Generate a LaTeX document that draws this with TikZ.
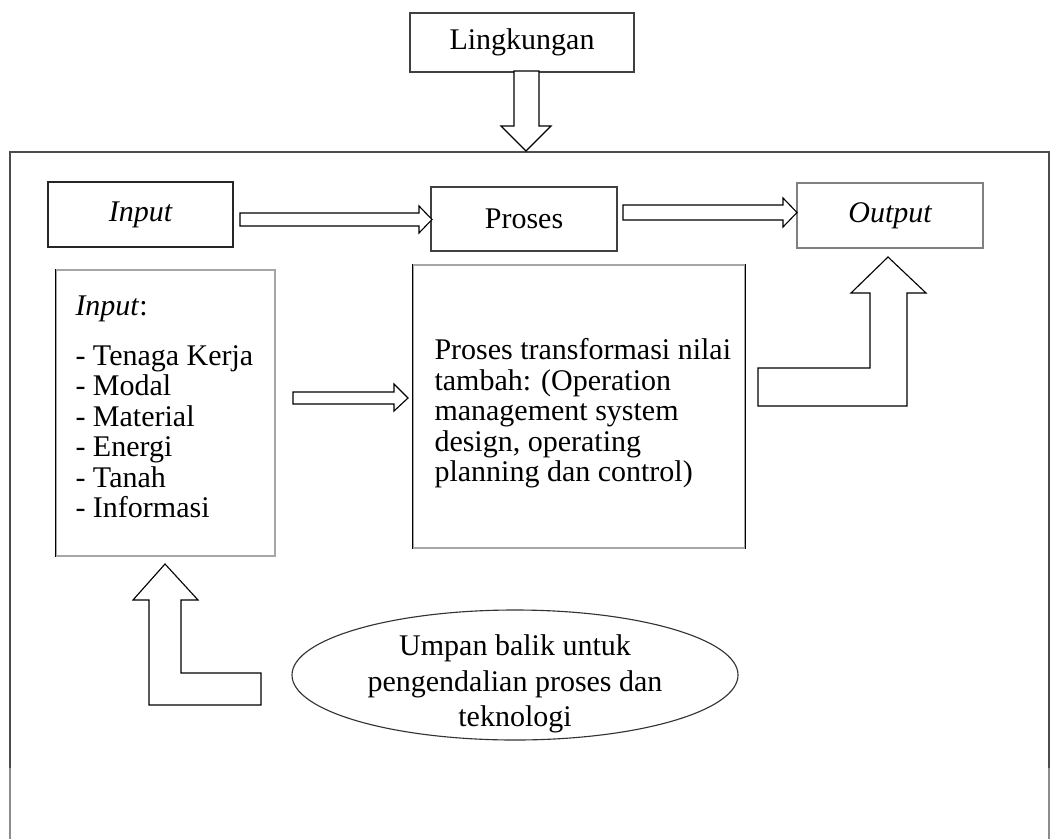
\documentclass[tikz,border=0pt]{standalone}
\usepackage{fontspec}
\setmainfont{Liberation Serif}
\usetikzlibrary{shapes.geometric}
\begin{document}
\begin{tikzpicture}[x=0.4pt,y=-0.4pt,
  box/.style={draw=black!75,line width=0.45pt,rectangle,inner sep=0pt,font=\fontsize{12}{12.2}\selectfont},
  blockarrow/.style={draw=black,line width=0.45pt,fill=white,line join=miter},
  frame/.style={draw=black!70,line width=0.75pt},
  txt/.style={inner sep=0pt,align=left,font=\fontsize{12}{12.2}\selectfont}]
\useasboundingbox (0,0) rectangle (1051,839);
% outer frame
\draw[frame] (10,768) -- (10,152) -- (1049,152) -- (1049,768);
\draw[draw=black!45,line width=0.75pt] (10,768) -- (10,839);
\draw[draw=black!45,line width=0.75pt] (1049,768) -- (1049,839);
% boxes
\node[box,minimum width=89.6pt,minimum height=23.6pt] (ling) at (522,42.5) {Lingkungan};
\node[box,draw=black!85,minimum width=74pt,minimum height=26pt] (input) at (140.5,214.5) {\itshape Input};
\node[box,minimum width=74.4pt,minimum height=25.6pt] (proses) at (524,219) {Proses};
\node[box,draw=black!50,minimum width=74.4pt,minimum height=26pt] (output) at (890,215.5) {\itshape Output};
\node[box,draw=black!35,minimum width=87.6pt,minimum height=114.4pt] (list) at (165.5,413) {};
\draw[black,line width=0.45pt] (list.north west) -- (list.south west);
\node[txt,anchor=north west] (listtext) at (75,295) {\textit{Input}:\\[7.8pt]- Tenaga Kerja\\- Modal\\- Material\\- Energi\\- Tanah\\- Informasi};
\node[box,draw=black!35,minimum width=132.8pt,minimum height=113.2pt] (trans) at (579,406.5) {};
\draw[black,line width=0.45pt] (trans.north east) -- (trans.south east);
\draw[black,line width=0.45pt] (trans.north west) -- (trans.south west);
\node[txt,anchor=north west] (transtext) at (434,338) {Proses transformasi nilai\\tambah: (Operation\\management system\\design, operating\\planning dan control)};
\node[ellipse,draw=black!80,line width=0.45pt,minimum width=178.4pt,minimum height=52pt,inner sep=0pt] (umpan) at (515,675) {};
\node[txt,align=center,font=\fontsize{12}{14.2}\selectfont] (umpantext) at (515,684) {Umpan balik untuk\\pengendalian proses dan\\teknologi};
% block arrows
\draw[blockarrow] (514,71) -- (539,71) -- (539,126) -- (551,126) -- (526,151) -- (501,126) -- (514,126) -- cycle;
\draw[blockarrow] (240,213) -- (419,213) -- (419,206) -- (432,219.5) -- (419,233) -- (419,226) -- (240,226) -- cycle;
\draw[blockarrow] (623,205) -- (783,205) -- (783,198) -- (797,212.5) -- (783,227) -- (783,220) -- (623,220) -- cycle;
\draw[blockarrow] (293,392) -- (394,392) -- (394,384) -- (408,398) -- (394,411) -- (394,404) -- (293,404) -- cycle;
\draw[blockarrow] (758,368) -- (870,368) -- (870,293) -- (851,293) -- (888,257) -- (926,293) -- (907,293) -- (907,406) -- (758,406) -- cycle;
\draw[blockarrow] (261,673) -- (181,673) -- (181,600) -- (198,600) -- (165,564) -- (133,600) -- (149,600) -- (149,705) -- (261,705) -- cycle;
\end{tikzpicture}
\end{document}
